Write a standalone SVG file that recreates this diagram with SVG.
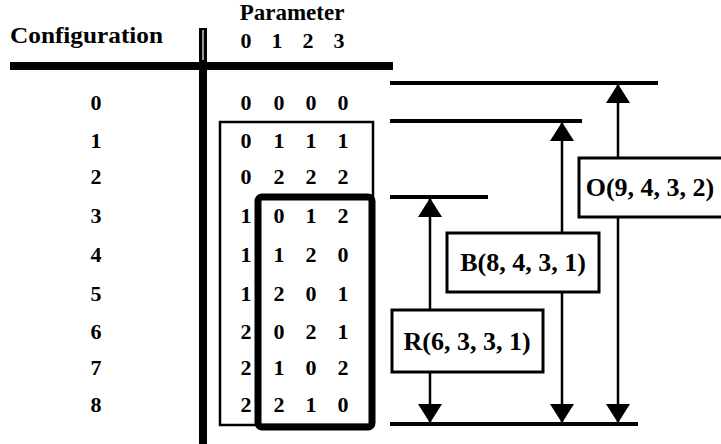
<svg xmlns="http://www.w3.org/2000/svg" width="721" height="444" viewBox="0 0 721 444">
<defs>
<style>
.t{font-family:"Liberation Serif","Times New Roman",serif;font-weight:bold;fill:#000}
.d{font-size:22px;text-anchor:middle}
.h{font-size:23px}
.lb{font-size:26px;text-anchor:middle}
.ref{stroke:#000;stroke-width:4;fill:none}
.box{fill:#fff;stroke:#000;stroke-width:3}
.ar{stroke:#000;stroke-width:2.5;fill:none}
</style>
<marker id="ah" viewBox="0 0 19 24" refX="19" refY="12" markerWidth="19" markerHeight="24" markerUnits="userSpaceOnUse" orient="auto-start-reverse">
<path d="M19 12 L0 0 L0 24 Z" fill="#000"/>
</marker>
</defs>
<rect width="721" height="444" fill="#fff"/>
<g id="table-frame">
<line x1="10" y1="66" x2="393" y2="66" stroke="#000" stroke-width="8"/>
<line x1="203" y1="28" x2="203" y2="444" stroke="#000" stroke-width="8"/>
<line x1="203" y1="30" x2="203" y2="60" stroke="#fff" stroke-width="1.2"/>
</g>
<g id="headers" class="t">
<text class="h" x="10" y="43" textLength="153" lengthAdjust="spacingAndGlyphs">Configuration</text>
<text class="h" x="292" y="20" text-anchor="middle">Parameter</text>
<text class="d" x="246" y="48">0</text><text class="d" x="277" y="48">1</text><text class="d" x="308" y="48">2</text><text class="d" x="339" y="48">3</text>
</g>
<g id="config-labels" class="t d">
<text x="96" y="110">0</text>
<text x="96" y="148">1</text>
<text x="96" y="184">2</text>
<text x="96" y="223">3</text>
<text x="96" y="262">4</text>
<text x="96" y="301">5</text>
<text x="96" y="339">6</text>
<text x="96" y="375">7</text>
<text x="96" y="412">8</text>
</g>
<g id="box-B-rows">
<rect x="220" y="122" width="153" height="303" fill="none" stroke="#000" stroke-width="2.5"/>
</g>
<g id="box-R-rows">
<rect x="258" y="197" width="114" height="230" rx="4" fill="none" stroke="#000" stroke-width="7"/>
</g>
<g id="values" class="t d">
<text x="246" y="110">0</text><text x="279" y="110">0</text><text x="311" y="110">0</text><text x="343" y="110">0</text>
<text x="246" y="148">0</text><text x="279" y="148">1</text><text x="311" y="148">1</text><text x="343" y="148">1</text>
<text x="246" y="184">0</text><text x="279" y="184">2</text><text x="311" y="184">2</text><text x="343" y="184">2</text>
<text x="246" y="223">1</text><text x="279" y="223">0</text><text x="311" y="223">1</text><text x="343" y="223">2</text>
<text x="246" y="262">1</text><text x="279" y="262">1</text><text x="311" y="262">2</text><text x="343" y="262">0</text>
<text x="246" y="301">1</text><text x="279" y="301">2</text><text x="311" y="301">0</text><text x="343" y="301">1</text>
<text x="246" y="339">2</text><text x="279" y="339">0</text><text x="311" y="339">2</text><text x="343" y="339">1</text>
<text x="246" y="375">2</text><text x="279" y="375">1</text><text x="311" y="375">0</text><text x="343" y="375">2</text>
<text x="246" y="412">2</text><text x="279" y="412">2</text><text x="311" y="412">1</text><text x="343" y="412">0</text>
</g>
<g id="connectors">
<line class="ref" x1="390" y1="83" x2="658" y2="83"/>
<line class="ref" x1="390" y1="121" x2="582" y2="121"/>
<line class="ref" x1="390" y1="197" x2="488" y2="197"/>
<line class="ref" x1="390" y1="424" x2="638" y2="424"/>
<line class="ar" x1="430" y1="198" x2="430" y2="423" marker-start="url(#ah)" marker-end="url(#ah)"/>
<line class="ar" x1="562" y1="122" x2="562" y2="423" marker-start="url(#ah)" marker-end="url(#ah)"/>
<line class="ar" x1="618" y1="84" x2="618" y2="423" marker-start="url(#ah)" marker-end="url(#ah)"/>
</g>
<g id="node-R">
<rect class="box" x="392" y="310" width="151" height="62"/>
<text class="t lb" x="467" y="350">R(6, 3, 3, 1)</text>
</g>
<g id="node-B">
<rect class="box" x="447" y="233" width="152" height="59"/>
<text class="t lb" x="523" y="271">B(8, 4, 3, 1)</text>
</g>
<g id="node-O">
<rect class="box" x="579" y="158" width="150" height="59"/>
<text class="t lb" x="650" y="196">O(9, 4, 3, 2)</text>
</g>
</svg>
